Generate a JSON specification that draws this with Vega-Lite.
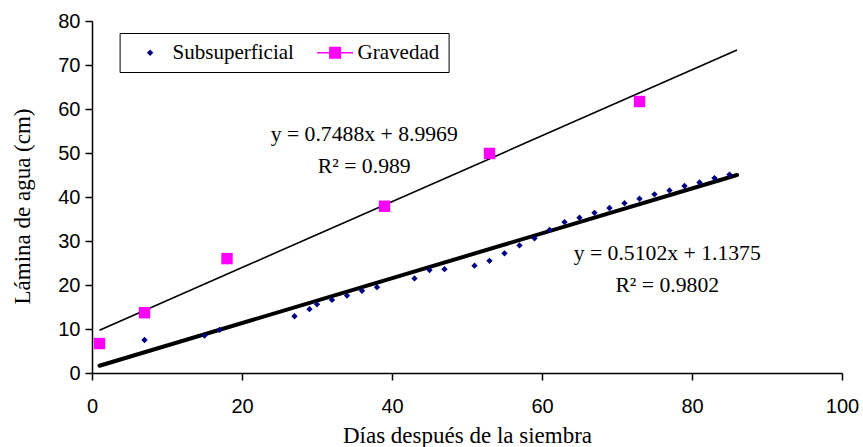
{
  "$schema": "https://vega.github.io/schema/vega-lite/v6.json",
  "width": 750,
  "height": 352,
  "autosize": {"type": "none"},
  "padding": {"left": 92, "top": 21, "right": 21, "bottom": 74},
  "background": "white",
  "datasets": {
    "puntos": [
      {"dias": 7, "lamina": 7.5, "serie": "Subsuperficial"},
      {"dias": 15, "lamina": 8.5, "serie": "Subsuperficial"},
      {"dias": 17, "lamina": 9.8, "serie": "Subsuperficial"},
      {"dias": 27, "lamina": 12.9, "serie": "Subsuperficial"},
      {"dias": 29, "lamina": 14.5, "serie": "Subsuperficial"},
      {"dias": 30, "lamina": 15.6, "serie": "Subsuperficial"},
      {"dias": 32, "lamina": 16.6, "serie": "Subsuperficial"},
      {"dias": 34, "lamina": 17.6, "serie": "Subsuperficial"},
      {"dias": 36, "lamina": 18.7, "serie": "Subsuperficial"},
      {"dias": 38, "lamina": 19.5, "serie": "Subsuperficial"},
      {"dias": 43, "lamina": 21.5, "serie": "Subsuperficial"},
      {"dias": 45, "lamina": 23.4, "serie": "Subsuperficial"},
      {"dias": 47, "lamina": 23.6, "serie": "Subsuperficial"},
      {"dias": 51, "lamina": 24.4, "serie": "Subsuperficial"},
      {"dias": 53, "lamina": 25.5, "serie": "Subsuperficial"},
      {"dias": 55, "lamina": 27.2, "serie": "Subsuperficial"},
      {"dias": 57, "lamina": 29.0, "serie": "Subsuperficial"},
      {"dias": 59, "lamina": 30.6, "serie": "Subsuperficial"},
      {"dias": 61, "lamina": 32.5, "serie": "Subsuperficial"},
      {"dias": 63, "lamina": 34.3, "serie": "Subsuperficial"},
      {"dias": 65, "lamina": 35.3, "serie": "Subsuperficial"},
      {"dias": 67, "lamina": 36.4, "serie": "Subsuperficial"},
      {"dias": 69, "lamina": 37.5, "serie": "Subsuperficial"},
      {"dias": 71, "lamina": 38.6, "serie": "Subsuperficial"},
      {"dias": 73, "lamina": 39.6, "serie": "Subsuperficial"},
      {"dias": 75, "lamina": 40.6, "serie": "Subsuperficial"},
      {"dias": 77, "lamina": 41.5, "serie": "Subsuperficial"},
      {"dias": 79, "lamina": 42.5, "serie": "Subsuperficial"},
      {"dias": 81, "lamina": 43.3, "serie": "Subsuperficial"},
      {"dias": 83, "lamina": 44.3, "serie": "Subsuperficial"},
      {"dias": 85, "lamina": 45.1, "serie": "Subsuperficial"},
      {"dias": 1, "lamina": 6.7, "serie": "Gravedad"},
      {"dias": 7, "lamina": 13.7, "serie": "Gravedad"},
      {"dias": 18, "lamina": 26.0, "serie": "Gravedad"},
      {"dias": 39, "lamina": 37.9, "serie": "Gravedad"},
      {"dias": 53, "lamina": 49.9, "serie": "Gravedad"},
      {"dias": 73, "lamina": 61.7, "serie": "Gravedad"}
    ],
    "tendencia": [
      {"dias": 1, "lamina": 1.65, "serie": "Subsuperficial"},
      {"dias": 86, "lamina": 45.0, "serie": "Subsuperficial"},
      {"dias": 1, "lamina": 9.74, "serie": "Gravedad"},
      {"dias": 86, "lamina": 73.4, "serie": "Gravedad"}
    ],
    "ecuaciones": [
      {"dias": 36.3, "lamina": 54.4, "texto": "y = 0.7488x + 8.9969\nR² = 0.989"},
      {"dias": 76.7, "lamina": 27.2, "texto": "y = 0.5102x + 1.1375\nR² = 0.9802"}
    ]
  },
  "resolve": {
    "scale": {"color": "independent", "shape": "independent", "size": "independent"},
    "legend": {"color": "independent", "shape": "independent", "size": "independent"}
  },
  "layer": [
    {
      "data": {"name": "tendencia"},
      "transform": [{"filter": "datum.serie === 'Gravedad'"}],
      "mark": {"type": "line", "color": "black", "strokeWidth": 1.6},
      "encoding": {
        "x": {"field": "dias", "type": "quantitative"},
        "y": {"field": "lamina", "type": "quantitative"}
      }
    },
    {
      "data": {"name": "tendencia"},
      "transform": [{"filter": "datum.serie === 'Subsuperficial'"}],
      "mark": {"type": "line", "color": "black", "strokeWidth": 4, "strokeCap": "round"},
      "encoding": {
        "x": {"field": "dias", "type": "quantitative"},
        "y": {"field": "lamina", "type": "quantitative"}
      }
    },
    {
      "data": {"name": "puntos"},
      "mark": {"type": "point", "filled": true, "opacity": 1},
      "encoding": {
        "x": {
          "field": "dias", "type": "quantitative",
          "scale": {"domain": [0, 100], "nice": false},
          "axis": {"values": [0, 20, 40, 60, 80, 100], "title": "Días después de la siembra", "titleY": 69, "titleBaseline": "alphabetic", "labelPadding": 16, "labelFlush": false}
        },
        "y": {
          "field": "lamina", "type": "quantitative",
          "scale": {"domain": [0, 80], "nice": false},
          "axis": {"values": [0, 10, 20, 30, 40, 50, 60, 70, 80], "title": "Lámina de agua (cm)", "titleX": -70, "titleY": 185, "titleBaseline": "middle", "labelPadding": 5, "labelFlush": false}
        },
        "color": {
          "field": "serie", "type": "nominal",
          "scale": {"domain": ["Subsuperficial", "Gravedad"], "range": ["#000080", "#FF00FF"]},
          "legend": null
        },
        "shape": {
          "field": "serie", "type": "nominal",
          "scale": {"domain": ["Subsuperficial", "Gravedad"], "range": ["diamond", "square"]},
          "legend": null
        },
        "size": {
          "field": "serie", "type": "nominal",
          "scale": {"type": "point", "padding": 0, "domain": ["Subsuperficial", "Gravedad"], "range": [40, 130]},
          "legend": null
        }
      }
    },
    {
      "data": {"name": "puntos"},
      "mark": {"type": "point", "filled": true, "opacity": 0},
      "encoding": {
        "x": {"field": "dias", "type": "quantitative"},
        "y": {"field": "lamina", "type": "quantitative"},
        "color": {
          "field": "serie", "type": "nominal",
          "scale": {"domain": ["Subsuperficial", "Gravedad"], "range": ["#000080", "#FF00FF"]},
          "legend": {
            "title": null,
            "orient": "none",
            "legendX": 27.6,
            "legendY": 12,
            "direction": "horizontal",
            "strokeColor": "black",
            "fillColor": "white",
            "padding": 9,
            "symbolSize": 400,
            "symbolOpacity": 1,
            "symbolStrokeWidth": 0,
            "symbolOffset": 11,
            "labelOffset": 12,
            "columnPadding": 19,
            "labelFont": "Liberation Serif",
            "labelFontSize": 21,
            "labelColor": "black"
          }
        },
        "shape": {
          "field": "serie", "type": "nominal",
          "scale": {"domain": ["Subsuperficial", "Gravedad"], "range": ["M0,-0.32L0.32,0L0,0.32L-0.32,0Z", "M-1.8,-0.08L1.8,-0.08L1.8,0.08L-1.8,0.08Z M-0.6,-0.6L0.6,-0.6L0.6,0.6L-0.6,0.6Z"]},
          "legend": {
            "title": null,
            "orient": "none",
            "legendX": 27.6,
            "legendY": 12,
            "direction": "horizontal",
            "strokeColor": "black",
            "fillColor": "white",
            "padding": 9,
            "symbolSize": 400,
            "symbolOpacity": 1,
            "symbolStrokeWidth": 0,
            "symbolOffset": 11,
            "labelOffset": 12,
            "columnPadding": 19,
            "labelFont": "Liberation Serif",
            "labelFontSize": 21,
            "labelColor": "black"
          }
        }
      }
    },
    {
      "data": {"name": "ecuaciones"},
      "mark": {"type": "text", "font": "Liberation Serif", "fontSize": 21.7, "color": "black", "align": "center", "baseline": "middle", "lineBreak": "\n", "lineHeight": 32},
      "encoding": {
        "x": {"field": "dias", "type": "quantitative"},
        "y": {"field": "lamina", "type": "quantitative"},
        "text": {"field": "texto"}
      }
    }
  ],
  "config": {
    "view": {"stroke": null},
    "axis": {
      "grid": false,
      "domainColor": "black",
      "domainWidth": 1.5,
      "tickColor": "black",
      "tickWidth": 1.5,
      "tickSize": 7,
      "labelColor": "black",
      "labelFont": "Liberation Sans",
      "labelFontSize": 20,
      "titleColor": "black",
      "titleFont": "Liberation Serif",
      "titleFontSize": 23,
      "titleFontWeight": "normal"
    }
  }
}
